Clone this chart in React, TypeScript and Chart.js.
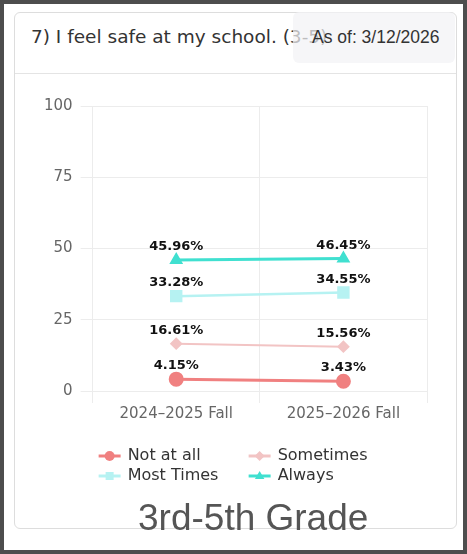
import React, { useEffect, useRef } from "react";
import { Chart, registerables } from "chart.js";

Chart.register(...registerables);

const categories = ["2024–2025 Fall", "2025–2026 Fall"];
const seriesLabels = ["Not at all", "Sometimes", "Most Times", "Always"];
const notAtAll = [4.15, 3.43];
const sometimes = [16.61, 15.56];
const mostTimes = [33.28, 34.55];
const always = [45.96, 46.45];
const yTicks = [0, 25, 50, 75, 100];

const titleText = "7) I feel safe at my school. (3-5)";
const asOfText = "As of: 3/12/2026";
const gradeText = "3rd-5th Grade";

const seriesColors = ["#f08080", "#f2c4c4", "#b6f2f2", "#40e0d0"];
const seriesPointStyles = ["circle", "rectRot", "rect", "triangle"];
const seriesLineWidths = [3, 2, 2.5, 3];
const seriesRadii = [6, 5, 7, 5];

const TICK_FONT = { family: "DejaVu Sans", size: 15 };

function drawMarker(ctx: CanvasRenderingContext2D, style: string, x: number, y: number, r: number) {
  ctx.beginPath();
  if (style === "circle") {
    ctx.arc(x, y, r, 0, Math.PI * 2);
  } else if (style === "rect") {
    ctx.rect(x - r * 0.8, y - r * 0.8, r * 1.6, r * 1.6);
  } else if (style === "rectRot") {
    ctx.moveTo(x, y - r);
    ctx.lineTo(x + r, y);
    ctx.lineTo(x, y + r);
    ctx.lineTo(x - r, y);
    ctx.closePath();
  } else if (style === "triangle") {
    ctx.moveTo(x, y - r);
    ctx.lineTo(x + r * 0.95, y + r * 0.6);
    ctx.lineTo(x - r * 0.95, y + r * 0.6);
    ctx.closePath();
  }
  ctx.fill();
}

const dataLabelPlugin = {
  id: "dataLabels",
  afterDatasetsDraw(chart: any) {
    const ctx: CanvasRenderingContext2D = chart.ctx;
    ctx.save();
    ctx.font = "bold 13px 'DejaVu Sans'";
    ctx.fillStyle = "#111";
    ctx.textAlign = "center";
    ctx.textBaseline = "alphabetic";
    chart.data.datasets.forEach((ds: any, i: number) => {
      const meta = chart.getDatasetMeta(i);
      meta.data.forEach((pt: any, j: number) => {
        const v = ds.data[j] as number;
        ctx.fillText(v.toFixed(2) + "%", pt.x, pt.y - 10);
      });
    });
    ctx.restore();
  },
};

const gridLegendPlugin = {
  id: "gridLegend",
  afterDraw(chart: any) {
    const ctx: CanvasRenderingContext2D = chart.ctx;
    const area = chart.chartArea;
    ctx.save();
    chart.data.datasets.forEach((ds: any, i: number) => {
      const col = i % 2;
      const row = Math.floor(i / 2);
      const x0 = area.left + 6 + col * 150;
      const cy = area.bottom + 65 + row * 20;
      ctx.strokeStyle = ds.borderColor;
      ctx.fillStyle = ds.borderColor;
      ctx.lineWidth = 3;
      ctx.beginPath();
      ctx.moveTo(x0, cy);
      ctx.lineTo(x0 + 22, cy);
      ctx.stroke();
      drawMarker(ctx, ds.pointStyle, x0 + 11, cy, 5);
      ctx.fillStyle = "#333";
      ctx.font = "16px 'DejaVu Sans'";
      ctx.textAlign = "left";
      ctx.textBaseline = "middle";
      ctx.fillText(ds.label, x0 + 29, cy);
    });
    ctx.restore();
  },
};

export default function App() {
  const ref = useRef<HTMLCanvasElement>(null);

  useEffect(() => {
    document.body.style.margin = "0";
    const seriesData = [notAtAll, sometimes, mostTimes, always];
    const chart = new Chart(ref.current as HTMLCanvasElement, {
      type: "line",
      data: {
        labels: categories,
        datasets: seriesLabels.map((label, i) => ({
          label,
          data: seriesData[i],
          borderColor: seriesColors[i],
          backgroundColor: seriesColors[i],
          pointBackgroundColor: seriesColors[i],
          pointBorderColor: seriesColors[i],
          pointStyle: seriesPointStyles[i] as any,
          pointRadius: seriesRadii[i],
          borderWidth: seriesLineWidths[i],
          fill: false,
          tension: 0,
        })),
      },
      options: {
        animation: false,
        responsive: true,
        maintainAspectRatio: false,
        layout: { padding: { left: 21, right: 29, top: 32, bottom: 79 } },
        plugins: {
          legend: { display: false },
          tooltip: { enabled: false },
        },
        scales: {
          x: {
            offset: true,
            grid: { offset: true, color: "#ececec", tickLength: 12 },
            border: { color: "#ececec" },
            ticks: { color: "#666", font: TICK_FONT, padding: 2, maxRotation: 0 },
          },
          y: {
            min: 0,
            max: 100,
            afterBuildTicks: (axis: any) => {
              axis.ticks = yTicks.map((v) => ({ value: v }));
            },
            grid: { color: "#ececec", tickLength: 12 },
            border: { color: "#ececec" },
            ticks: { color: "#666", font: TICK_FONT, padding: 8 },
          },
        },
      },
      plugins: [dataLabelPlugin, gridLegendPlugin],
    });
    return () => chart.destroy();
  }, []);

  return (
    <div
      style={{
        position: "relative",
        width: 467,
        height: 554,
        boxSizing: "border-box",
        border: "4px solid #4d4d4d",
        background: "#fff",
        overflow: "hidden",
        fontFamily: "'DejaVu Sans', sans-serif",
      }}
    >
      <div
        style={{
          position: "absolute",
          left: 10,
          top: 8,
          width: 443,
          height: 517,
          boxSizing: "border-box",
          border: "1px solid #dddddd",
          borderRadius: 6,
        }}
      />
      <div style={{ position: "absolute", left: 11, top: 69, width: 441, height: 1, background: "#e4e4e4" }} />
      <div
        style={{
          position: "absolute",
          left: 27,
          top: 24,
          fontSize: 18.5,
          lineHeight: "18px",
          color: "#333",
          whiteSpace: "nowrap",
          fontFamily: "'DejaVu Sans', sans-serif",
        }}
      >
        {titleText}
      </div>
      <div
        style={{
          position: "absolute",
          left: 289,
          top: 8,
          width: 162,
          height: 51,
          boxSizing: "border-box",
          borderRadius: 6,
          background: "rgba(243,243,245,0.72)",
          display: "flex",
          alignItems: "center",
          paddingLeft: 19,
          fontFamily: "'Liberation Sans', Arial, sans-serif",
          fontSize: 17.5,
          color: "#333",
          whiteSpace: "nowrap",
        }}
      >
        {asOfText}
      </div>
      <div style={{ position: "absolute", left: 11, top: 70, width: 441, height: 430 }}>
        <canvas ref={ref} />
      </div>
      <div
        style={{
          position: "absolute",
          left: 134,
          top: 495,
          fontFamily: "'Liberation Sans', Arial, sans-serif",
          fontSize: 37,
          lineHeight: "37px",
          color: "#555",
          whiteSpace: "nowrap",
        }}
      >
        {gradeText}
      </div>
    </div>
  );
}
